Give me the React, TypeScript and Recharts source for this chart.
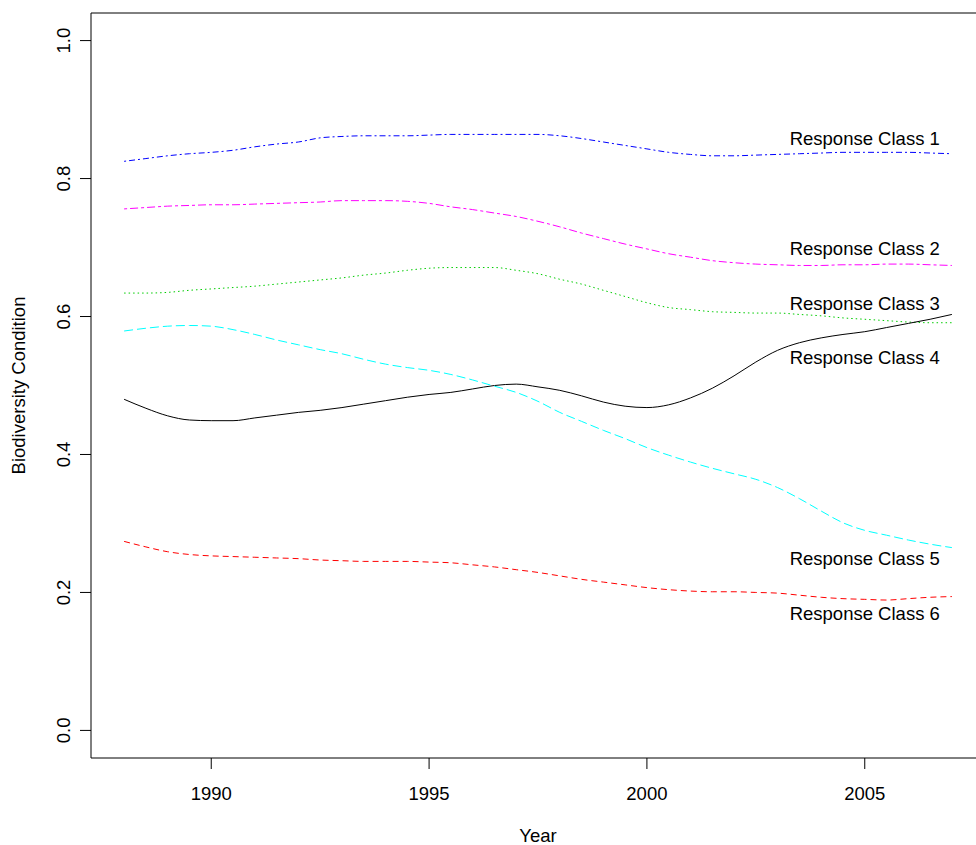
import React from "react";
import {
  LineChart,
  Line,
  XAxis,
  YAxis,
  ReferenceArea,
  ReferenceDot,
} from "recharts";

// half-year steps, 1988 .. 2007
const years = [
  1988, 1988.5, 1989, 1989.5, 1990, 1990.5, 1991, 1991.5, 1992, 1992.5,
  1993, 1993.5, 1994, 1994.5, 1995, 1995.5, 1996, 1996.5, 1997, 1997.5,
  1998, 1998.5, 1999, 1999.5, 2000, 2000.5, 2001, 2001.5, 2002, 2002.5,
  2003, 2003.5, 2004, 2004.5, 2005, 2005.5, 2006, 2006.5, 2007,
];

const class1 = [
  0.825, 0.829, 0.833, 0.836, 0.838, 0.841, 0.846, 0.85, 0.853, 0.859,
  0.861, 0.862, 0.862, 0.862, 0.863, 0.864, 0.864, 0.864, 0.864, 0.864,
  0.862, 0.858, 0.853, 0.848, 0.843, 0.838, 0.835, 0.833, 0.833, 0.834,
  0.835, 0.836, 0.837, 0.838, 0.838, 0.838, 0.838, 0.837, 0.836,
];

const class2 = [
  0.756, 0.758, 0.76, 0.761, 0.762, 0.762, 0.763, 0.764, 0.765, 0.766,
  0.768, 0.768, 0.768, 0.767, 0.764, 0.759, 0.755, 0.75, 0.745, 0.738,
  0.73, 0.721, 0.713, 0.705, 0.698, 0.691, 0.686, 0.681, 0.678, 0.676,
  0.675, 0.674, 0.674, 0.675, 0.675, 0.676, 0.676, 0.675, 0.674,
];

const class3 = [
  0.634, 0.634, 0.635, 0.638, 0.64, 0.642, 0.644, 0.647, 0.65, 0.653,
  0.656, 0.66, 0.663, 0.667, 0.67, 0.671, 0.671, 0.671, 0.667, 0.662,
  0.654, 0.647, 0.638, 0.629, 0.62, 0.613, 0.61, 0.607, 0.606, 0.605,
  0.605, 0.603, 0.601, 0.598, 0.596, 0.594, 0.592, 0.591, 0.591,
];

const class4 = [
  0.48, 0.467, 0.456, 0.45, 0.449, 0.449, 0.453, 0.457, 0.461, 0.464,
  0.468, 0.473, 0.478, 0.483, 0.487, 0.49, 0.495, 0.5, 0.502, 0.498,
  0.493, 0.485, 0.476, 0.47, 0.468, 0.472, 0.482, 0.496, 0.514, 0.534,
  0.551, 0.562, 0.569, 0.574, 0.578, 0.584, 0.59, 0.596, 0.603,
];

const class5 = [
  0.579, 0.583, 0.586, 0.587, 0.586, 0.581, 0.574, 0.566, 0.559, 0.552,
  0.546, 0.538, 0.531, 0.526, 0.522, 0.516, 0.508, 0.499, 0.49, 0.477,
  0.461, 0.448, 0.435, 0.423, 0.41, 0.399, 0.389, 0.38, 0.372, 0.364,
  0.352, 0.336, 0.318, 0.301, 0.29, 0.283, 0.276, 0.27, 0.265,
];

const class6 = [
  0.274, 0.266, 0.259, 0.255, 0.253, 0.252, 0.251, 0.25, 0.249, 0.247,
  0.246, 0.245, 0.245, 0.245, 0.244, 0.243, 0.24, 0.237, 0.233, 0.229,
  0.224, 0.219, 0.215, 0.211, 0.207, 0.204, 0.202, 0.201, 0.201, 0.2,
  0.199, 0.196, 0.193, 0.191, 0.19, 0.189, 0.191, 0.193, 0.194,
];

const classNames = [
  "Response Class 1",
  "Response Class 2",
  "Response Class 3",
  "Response Class 4",
  "Response Class 5",
  "Response Class 6",
];
const labelYear = 2005;
const labelValues = [0.858, 0.698, 0.619, 0.54, 0.249, 0.169];

const xTicks = [1990, 1995, 2000, 2005];
const yTicks = [0, 0.2, 0.4, 0.6, 0.8, 1.0];

const FONT = '"Liberation Sans", Arial, Helvetica, sans-serif';
const FS = 18.5;

// R-style extended ranges (4% each side)
const X_DOMAIN: [number, number] = [1987.24, 2007.76];
const Y_DOMAIN: [number, number] = [-0.04, 1.04];

const series = [
  { key: "c1", values: class1, color: "#0000ff", dash: "2 3 6 3" },
  { key: "c2", values: class2, color: "#ff00ff", dash: "3 3 8 3" },
  { key: "c3", values: class3, color: "#00cd00", dash: "1.5 3" },
  { key: "c4", values: class4, color: "#000000", dash: undefined },
  { key: "c5", values: class5, color: "#00ffff", dash: "9 4" },
  { key: "c6", values: class6, color: "#ff0000", dash: "6 4" },
];

const data = years.map((year, i) => {
  const row: Record<string, number> = { year };
  series.forEach((s) => {
    row[s.key] = s.values[i];
  });
  return row;
});

function YTick(props: any) {
  const { x, y, payload } = props;
  return (
    <text
      x={x}
      y={y}
      transform={`rotate(-90, ${x}, ${y})`}
      textAnchor="middle"
      fill="#000"
      fontSize={FS}
      fontFamily={FONT}
    >
      {Number(payload.value).toFixed(1)}
    </text>
  );
}

export default function App() {
  return (
    <div
      style={{
        position: "fixed",
        left: 0,
        top: 0,
        width: 976,
        height: 845,
        overflow: "hidden",
        background: "#fff",
      }}
    >
      <LineChart
        width={1000}
        height={845}
        data={data}
        margin={{ top: 13, right: 15, left: 31, bottom: 27 }}
        style={{ fontFamily: FONT }}
      >
        <ReferenceArea
          x1={X_DOMAIN[0]}
          x2={X_DOMAIN[1]}
          y1={Y_DOMAIN[0]}
          y2={Y_DOMAIN[1]}
          fill="none"
          stroke="#000"
          strokeWidth={1}
        />
        <XAxis
          dataKey="year"
          type="number"
          domain={X_DOMAIN}
          allowDataOverflow
          ticks={xTicks}
          height={60}
          axisLine={false}
          tickLine={{ stroke: "#000" }}
          tickSize={11}
          tickMargin={18}
          tick={{ fill: "#000", fontSize: FS, fontFamily: FONT }}
          label={{
            content: (p: any) => {
              const vb = p.viewBox;
              return (
                <text
                  x={vb.x + vb.width / 2}
                  y={842}
                  textAnchor="middle"
                  fill="#000"
                  fontSize={FS}
                  fontFamily={FONT}
                >
                  Year
                </text>
              );
            },
          }}
        />
        <YAxis
          type="number"
          domain={Y_DOMAIN}
          allowDataOverflow
          ticks={yTicks}
          width={60}
          axisLine={false}
          tickLine={{ stroke: "#000" }}
          tickSize={11}
          tickMargin={10}
          tick={<YTick />}
          label={{
            content: (p: any) => {
              const vb = p.viewBox;
              const tx = vb.x - 6;
              const ty = vb.y + vb.height / 2;
              return (
                <text
                  x={tx}
                  y={ty}
                  transform={`rotate(-90, ${tx}, ${ty})`}
                  textAnchor="middle"
                  fill="#000"
                  fontSize={FS}
                  fontFamily={FONT}
                >
                  Biodiversity Condition
                </text>
              );
            },
          }}
        />
        {series.map((s) => (
          <Line
            key={s.key}
            dataKey={s.key}
            type="monotone"
            stroke={s.color}
            strokeWidth={1}
            strokeDasharray={s.dash}
            dot={false}
            activeDot={false}
            isAnimationActive={false}
          />
        ))}
        {classNames.map((name, i) => (
          <ReferenceDot
            key={name}
            x={labelYear}
            y={labelValues[i]}
            r={1}
            fill="none"
            stroke="none"
            label={{
              value: name,
              position: "center",
              fill: "#000",
              fontSize: FS,
              fontFamily: FONT,
            }}
          />
        ))}
      </LineChart>
    </div>
  );
}
